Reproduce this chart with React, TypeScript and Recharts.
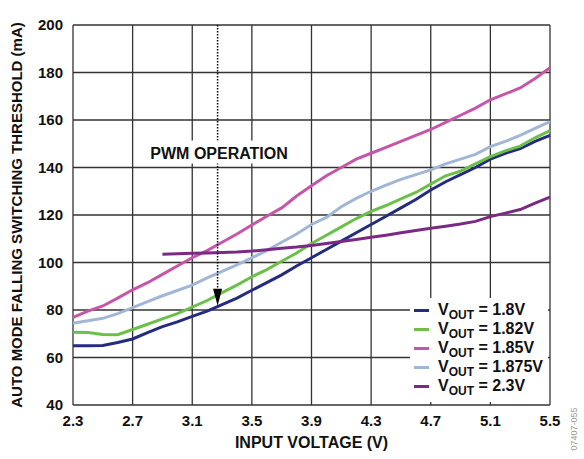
import React from 'react'
import {
  LineChart,
  Line,
  XAxis,
  YAxis,
  CartesianGrid,
  Legend,
  ReferenceLine,
  ReferenceDot,
} from 'recharts'

// ─── Data ─────────────────────────────────────────────────────────────────────

const vin = [
  2.3, 2.4, 2.5, 2.6, 2.7, 2.8, 2.9, 3.0, 3.1, 3.2, 3.3, 3.4, 3.5, 3.6, 3.7, 3.8, 3.9,
  4.0, 4.1, 4.2, 4.3, 4.4, 4.5, 4.6, 4.7, 4.8, 4.9, 5.0, 5.1, 5.2, 5.3, 5.4, 5.5,
]
const vinHigh = [
  2.9, 3.0, 3.1, 3.2, 3.3, 3.4, 3.5, 3.6, 3.7, 3.8, 3.9,
  4.0, 4.1, 4.2, 4.3, 4.4, 4.5, 4.6, 4.7, 4.8, 4.9, 5.0, 5.1, 5.2, 5.3, 5.4, 5.5,
]

const vout180 = [
  65, 65, 65.1, 66.3, 67.8, 70.5, 73, 75, 77.3, 79.5, 82.3, 85, 88.3, 91.5, 94.8, 98.5, 102,
  105.5, 109, 112.5, 116, 119.5, 123, 126.5, 130.5, 134, 137, 140, 143.5, 146, 148, 151, 153.5,
]
const vout182 = [
  70.6, 70.5, 69.7, 69.6, 71.8, 74, 76.3, 78.5, 81.2, 84, 87.3, 90.5, 94, 97, 100.5, 104, 108,
  111.5, 115, 118.5, 121.5, 124, 126.8, 129.5, 133, 136.5, 138.5, 141.5, 144.6, 147, 149, 152.5, 155.5,
]
const vout185 = [
  76.9, 79.5, 81.7, 85, 88.5, 91.5, 95, 98.5, 102, 105, 108.5, 112, 115.8, 119.5, 123, 128, 132.3,
  136.5, 140, 143.5, 146, 148.5, 151, 153.5, 156, 159, 162, 165, 168.5, 171, 173.5, 177.5, 182,
]
const vout1875 = [
  74.4, 75.5, 76.5, 78.5, 81, 83.5, 86, 88.2, 90.5, 93.5, 96.3, 99, 102, 105, 108.5, 112, 116,
  119, 123.5, 127, 130, 132.6, 135, 137, 139, 141.5, 143.5, 145.5, 148.8, 151, 153.5, 156.5, 159.3,
]
const vout230 = [
  103.5, 103.7, 103.9, 104, 104.2, 104.4, 104.8, 105.4, 106, 106.5, 107.2,
  108, 108.8, 109.7, 110.6, 111.5, 112.5, 113.5, 114.4, 115.3, 116.2, 117.3, 119.3, 120.8, 122.3, 125, 127.5,
]

const xTicks = [2.3, 2.7, 3.1, 3.5, 3.9, 4.3, 4.7, 5.1, 5.5]
const yTicks = [40, 60, 80, 100, 120, 140, 160, 180, 200]

const seriesNames = ['1.8V', '1.82V', '1.85V', '1.875V', '2.3V']
const seriesColors = ['#232c80', '#6cc04a', '#c656a8', '#a2b6d6', '#7a2a82']

const pwmVin = 3.27
const pwmLabelY = 146.3
const pwmArrowTip = 81.8

// ─── Helpers ──────────────────────────────────────────────────────────────────

const toPoints = (xs: number[], ys: number[]) => xs.map((v, i) => ({ v, ma: ys[i] }))

const series = [
  toPoints(vin, vout180),
  toPoints(vin, vout182),
  toPoints(vin, vout185),
  toPoints(vin, vout1875),
  toPoints(vinHigh, vout230),
]

const FONT = '"Liberation Sans", Arial, Helvetica, sans-serif'
const tickStyle = { fontSize: 15, fontWeight: 700, fill: '#111', fontFamily: FONT }

function LegendBox() {
  return (
    <div
      style={{
        background: '#fff',
        width: 138,
        height: 104,
        paddingTop: 3,
        boxSizing: 'border-box',
        fontFamily: FONT,
        fontWeight: 700,
        fontSize: 16,
        color: '#111',
      }}
    >
      {seriesNames.map((name, i) => (
        <div key={name} style={{ display: 'flex', alignItems: 'center', height: 19, whiteSpace: 'nowrap' }}>
          <span style={{ display: 'inline-block', width: 15, height: 3, background: seriesColors[i], marginLeft: 4, marginRight: 9 }} />
          <span style={{ lineHeight: '16px' }}>
            V<span style={{ fontSize: 12, position: 'relative', top: 4 }}>OUT</span> = {name}
          </span>
        </div>
      ))}
    </div>
  )
}

function ArrowHead(props: any) {
  const { cx, cy } = props
  return <polygon points={`${cx - 4.5},${cy - 17} ${cx + 4.5},${cy - 17} ${cx},${cy}`} fill="#000" />
}

function PwmLabel(props: any) {
  const { cx, cy } = props
  return (
    <g>
      <rect x={cx - 73} y={cy - 12} width={146} height={23} fill="#fff" />
      <text x={cx} y={cy + 6} textAnchor="middle" fontSize={16} fontWeight={700} fill="#111" fontFamily={FONT}>
        PWM OPERATION
      </text>
    </g>
  )
}

export default function App() {
  return (
    <div style={{ position: 'absolute', left: 0, top: 0, width: 584, height: 459, background: '#fff' }}>
      <LineChart width={584} height={459} margin={{ top: 25, right: 34, bottom: 0, left: 0 }} style={{ fontFamily: FONT }}>
        <CartesianGrid stroke="#333" strokeWidth={1.3} />
        <XAxis
          type="number"
          dataKey="v"
          domain={[2.3, 5.5]}
          ticks={xTicks}
          tickFormatter={(v: number) => v.toFixed(1)}
          height={54}
          axisLine={false}
          tickLine={false}
          tickSize={0}
          tickMargin={10}
          tick={tickStyle}
          allowDuplicatedCategory={false}
          label={{
            value: 'INPUT VOLTAGE (V)',
            position: 'insideBottom',
            offset: 11,
            style: { fontSize: 16, fontWeight: 700, fill: '#111', fontFamily: FONT },
          }}
        />
        <YAxis
          type="number"
          domain={[40, 200]}
          ticks={yTicks}
          width={73}
          axisLine={false}
          tickLine={false}
          tickSize={0}
          tickMargin={10}
          tick={tickStyle}
          label={{
            value: 'AUTO MODE FALLING SWITCHING THRESHOLD (mA)',
            angle: -90,
            position: 'insideLeft',
            offset: 17,
            style: { textAnchor: 'middle', fontSize: 15, fontWeight: 700, fill: '#111', fontFamily: FONT },
          }}
        />
        <Legend
          layout="vertical"
          align="center"
          verticalAlign="middle"
          content={() => <LegendBox />}
          wrapperStyle={{ left: 410, top: 298, width: 138, height: 104 }}
        />
        {series.map((pts, i) => (
          <Line
            key={seriesNames[i]}
            data={pts}
            dataKey="ma"
            name={seriesNames[i]}
            type="linear"
            stroke={seriesColors[i]}
            strokeWidth={3}
            dot={false}
            activeDot={false}
            isAnimationActive={false}
          />
        ))}
        <ReferenceLine
          segment={[{ x: pwmVin, y: 200 }, { x: pwmVin, y: 89 }]}
          stroke="#000"
          strokeWidth={1.5}
          strokeDasharray="1.5 1.5"
        />
        <ReferenceDot x={pwmVin} y={pwmArrowTip} r={0} shape={ArrowHead} />
        <ReferenceDot x={pwmVin + 0.01} y={pwmLabelY} r={0} shape={PwmLabel} />
      </LineChart>
      <div
        style={{
          position: 'absolute',
          left: 552,
          top: 424,
          transform: 'rotate(-90deg)',
          transformOrigin: 'center',
          fontFamily: FONT,
          fontSize: 9,
          color: '#999',
          whiteSpace: 'nowrap',
        }}
      >
        07407-055
      </div>
    </div>
  )
}
